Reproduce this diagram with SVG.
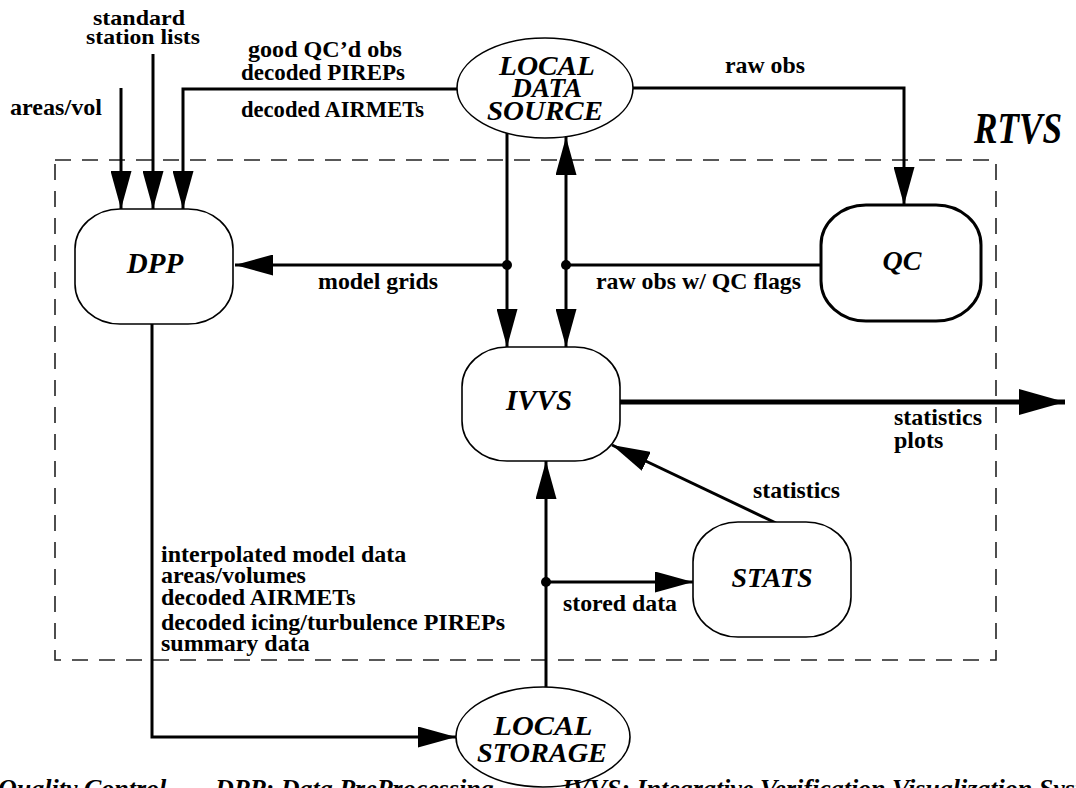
<svg xmlns="http://www.w3.org/2000/svg" width="1076" height="788" viewBox="0 0 1076 788">
<style>
.lbl{font-family:"Liberation Serif","Times New Roman",serif;font-weight:bold;font-size:24px;fill:#000}
.nd{font-family:"Liberation Serif","Times New Roman",serif;font-weight:bold;font-style:italic;font-size:29px;fill:#000;text-anchor:middle}
.cap{font-family:"Liberation Serif","Times New Roman",serif;font-weight:bold;font-style:italic;font-size:26px;fill:#000}
.box{fill:#fff;stroke:#000;stroke-width:1.6}
.ln{fill:none;stroke:#000;stroke-width:3}
.dot{fill:#000}
</style>
<defs>
<marker id="arr" markerUnits="userSpaceOnUse" markerWidth="38" markerHeight="21" refX="38" refY="10.5" orient="auto-start-reverse" viewBox="0 0 38 21">
<path d="M0,0 L38,10.5 L0,21 z" fill="#000"/>
</marker>
<marker id="arrBig" markerUnits="userSpaceOnUse" markerWidth="46" markerHeight="26" refX="46" refY="13" orient="auto" viewBox="0 0 46 26">
<path d="M0,0 L46,13 L0,26 z" fill="#000"/>
</marker>
</defs>
<rect width="1076" height="788" fill="#fff"/>
<g id="rtvs-boundary">
<rect x="55" y="160" width="941" height="500" fill="none" stroke="#222" stroke-width="1.6" stroke-dasharray="16 11"/>
<text x="974" y="143" class="nd" style="text-anchor:start;font-size:44px" textLength="88" lengthAdjust="spacingAndGlyphs">RTVS</text>
</g>
<g id="connectors">
<path class="ln" d="M121,88 V209" marker-end="url(#arr)"/>
<path class="ln" d="M153,54 V209" marker-end="url(#arr)"/>
<path class="ln" d="M457,89 H183 V209" marker-end="url(#arr)"/>
<path class="ln" d="M633,88 H904 V205" marker-end="url(#arr)"/>
<path class="ln" d="M507,133 V347" marker-end="url(#arr)"/>
<path class="ln" d="M566,137 V347" marker-start="url(#arr)" marker-end="url(#arr)"/>
<path class="ln" d="M507,265 H235" marker-end="url(#arr)"/>
<path class="ln" d="M821,265 H566"/>
<circle class="dot" cx="507" cy="265" r="5"/>
<circle class="dot" cx="566" cy="265" r="5"/>
<path class="ln" d="M152,324 V737 H456" marker-end="url(#arr)"/>
<path class="ln" d="M546,687 V461" marker-end="url(#arr)"/>
<path class="ln" d="M546,582 H693" marker-end="url(#arr)"/>
<circle class="dot" cx="546" cy="582" r="5"/>
<path class="ln" d="M776,523 L612,445" marker-end="url(#arr)"/>
<path fill="none" stroke="#000" stroke-width="5" d="M620,402 H1065" marker-end="url(#arrBig)"/>
</g>
<g id="labels">
<text class="lbl" x="93" y="25" style="font-size:22px" textLength="92" lengthAdjust="spacingAndGlyphs">standard</text>
<text class="lbl" x="86" y="44" style="font-size:22px" textLength="114" lengthAdjust="spacingAndGlyphs">station lists</text>
<text class="lbl" x="10" y="115" textLength="92" lengthAdjust="spacingAndGlyphs">areas/vol</text>
<text class="lbl" x="248" y="57" textLength="154" lengthAdjust="spacingAndGlyphs">good QC’d obs</text>
<text class="lbl" x="241" y="80" textLength="164" lengthAdjust="spacingAndGlyphs">decoded PIREPs</text>
<text class="lbl" x="241" y="117" textLength="183" lengthAdjust="spacingAndGlyphs">decoded AIRMETs</text>
<text class="lbl" x="725" y="73" textLength="80" lengthAdjust="spacingAndGlyphs">raw obs</text>
<text class="lbl" x="318" y="289" textLength="120" lengthAdjust="spacingAndGlyphs">model grids</text>
<text class="lbl" x="596" y="289" textLength="205" lengthAdjust="spacingAndGlyphs">raw obs w/ QC flags</text>
<text class="lbl" x="894" y="425" textLength="88" lengthAdjust="spacingAndGlyphs">statistics</text>
<text class="lbl" x="894" y="448">plots</text>
<text class="lbl" x="753" y="498" textLength="87" lengthAdjust="spacingAndGlyphs">statistics</text>
<text class="lbl" x="563" y="611" textLength="114" lengthAdjust="spacingAndGlyphs">stored data</text>
<text class="lbl" x="161" y="562">interpolated model data</text>
<text class="lbl" x="161" y="583">areas/volumes</text>
<text class="lbl" x="161" y="605">decoded AIRMETs</text>
<text class="lbl" x="161" y="630">decoded icing/turbulence PIREPs</text>
<text class="lbl" x="161" y="651">summary data</text>
</g>
<g id="node-local-data-source">
<ellipse class="box" cx="545" cy="88" rx="88" ry="50"/>
<text class="nd" x="547" y="75" style="font-size:27px" textLength="96" lengthAdjust="spacingAndGlyphs">LOCAL</text>
<text class="nd" x="547" y="97" style="font-size:27px" textLength="70" lengthAdjust="spacingAndGlyphs">DATA</text>
<text class="nd" x="545" y="120" style="font-size:27px" textLength="116" lengthAdjust="spacingAndGlyphs">SOURCE</text>
</g>
<g id="node-dpp">
<rect class="box" x="75" y="209" width="158" height="115" rx="45" ry="40"/>
<text class="nd" x="155" y="273">DPP</text>
</g>
<g id="node-qc">
<rect class="box" style="stroke-width:3" x="821" y="205" width="160" height="116" rx="45" ry="40"/>
<text class="nd" x="902" y="270" style="font-size:28px">QC</text>
</g>
<g id="node-ivvs">
<rect class="box" x="462" y="347" width="158" height="114" rx="45" ry="40"/>
<text class="nd" x="539" y="410">IVVS</text>
</g>
<g id="node-stats">
<rect class="box" x="693" y="522" width="158" height="115" rx="45" ry="40"/>
<text class="nd" x="772" y="587" style="font-size:28px">STATS</text>
</g>
<g id="node-local-storage">
<ellipse class="box" cx="543" cy="737" rx="87" ry="50"/>
<text class="nd" x="543" y="735" style="font-size:27px" textLength="99" lengthAdjust="spacingAndGlyphs">LOCAL</text>
<text class="nd" x="542" y="762" style="font-size:27px" textLength="130" lengthAdjust="spacingAndGlyphs">STORAGE</text>
</g>
<g id="caption">
<text class="cap" x="-2" y="797">Quality Control</text>
<text class="cap" x="215" y="797">DPP: Data PreProcessing</text>
<text class="cap" x="562" y="797">IVVS: Integrative Verification Visualization System</text>
</g>
</svg>
